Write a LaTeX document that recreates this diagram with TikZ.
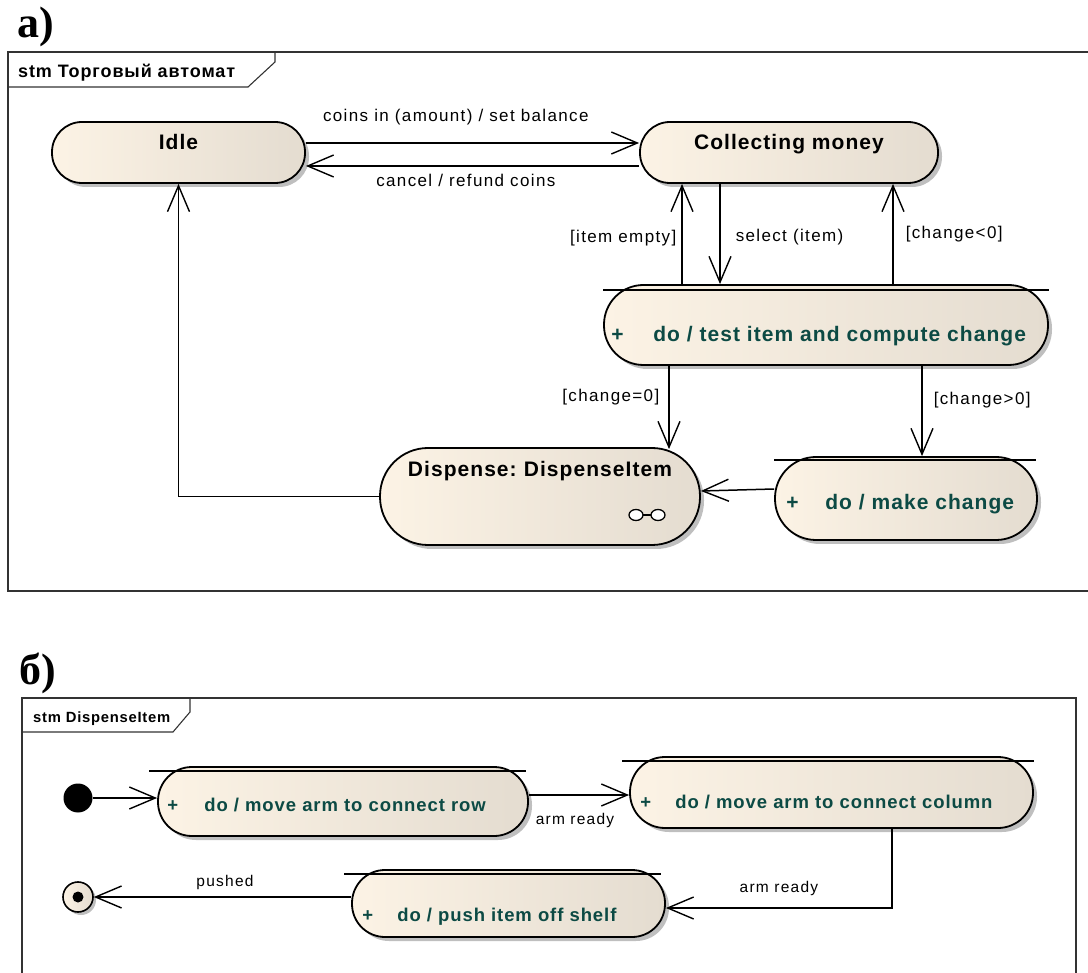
\documentclass[tikz,border=0pt]{standalone}
\usepackage{fontspec}
\setmainfont{Liberation Sans}
\newfontfamily\lblfont[LetterSpace=8]{Liberation Sans}
\newfontfamily\stfont[LetterSpace=5]{Liberation Sans}
\newfontfamily\partfont{Liberation Serif}
\usetikzlibrary{arrows.meta,shadows}
\definecolor{stL}{RGB}{252,243,229}
\definecolor{stR}{RGB}{228,220,208}
\definecolor{actcol}{RGB}{12,74,68}
\definecolor{framecol}{RGB}{50,50,50}
\begin{document}
\begin{tikzpicture}[x=1pt,y=-1pt,
  stbox/.style={draw, line width=1.8pt, left color=stL, right color=stR,
    drop shadow={shadow xshift=4pt, shadow yshift=-4pt, fill=black!25, opacity=1}},
  tr/.style={line width=1.5pt, -{Straight Barb[length=26pt,width=22pt,line width=1.4pt]}},
  comp/.style={line width=1.6pt},
  frame/.style={draw=framecol, line width=1.1pt},
  lbl/.style={font=\lblfont\fontsize{17}{20}\selectfont, inner sep=0pt},
  lblb/.style={font=\lblfont\fontsize{15.5}{18}\selectfont, inner sep=0pt},
  sttitle/.style={font=\stfont\bfseries\fontsize{21}{24}\selectfont, inner sep=0pt},
  act/.style={font=\stfont\bfseries\fontsize{21}{24}\selectfont, text=actcol, inner sep=0pt},
  actb/.style={font=\stfont\bfseries\fontsize{18.5}{22}\selectfont, text=actcol, inner sep=0pt},
  ftitle/.style={font=\stfont\bfseries\fontsize{18}{22}\selectfont, inner sep=0pt},
  ftitleb/.style={font=\stfont\bfseries\fontsize{14.8}{18}\selectfont, inner sep=0pt},
  part/.style={font=\partfont\bfseries\fontsize{44}{48}\selectfont, inner sep=0pt}
]
\useasboundingbox (0,0) rectangle (1088,973);

% ---------------- part a ----------------
\node[part, anchor=base west] (pa) at (17,38) {а)};
\draw[frame] (1088,52) -- (8,52) -- (8,591) -- (1088,591);
\draw[frame] (275,52) -- (275,62) -- (248,87) -- (8,87);
\node[ftitle, anchor=base west] (ta) at (18,78) {stm Торговый автомат};

\node[stbox, rounded corners=30pt, minimum width=253pt, minimum height=61pt] (idle) at (178.5,152.5) {};
\node[stbox, rounded corners=30pt, minimum width=298pt, minimum height=61pt] (coll) at (789,152.5) {};
\node[stbox, rounded corners=39.5pt, minimum width=444pt, minimum height=80pt] (test) at (826,325) {};
\node[stbox, rounded corners=48pt, minimum width=320pt, minimum height=97pt] (disp) at (540,496.5) {};
\node[stbox, rounded corners=41pt, minimum width=262pt, minimum height=83pt] (mkch) at (906,498.5) {};

\node[sttitle, anchor=base] (idlet) at ([yshift=-28pt]idle.north) {Idle};
\node[sttitle, anchor=base] (collt) at ([yshift=-28pt]coll.north) {Collecting money};
\node[sttitle, anchor=base] (dispt) at ([yshift=-29pt]disp.north) {Dispense:\hspace{-2pt} DispenseItem};

\draw[comp] ([yshift=-6pt]test.north west) -- ([yshift=-6pt]test.north east);
\node[act, anchor=base west] (testp) at ([xshift=8pt,yshift=-17pt]test.west) {+};
\node[act, anchor=base west] (testt) at ([xshift=50pt,yshift=-17pt]test.west) {do / test item and compute change};

\draw[comp] ([yshift=-4pt]mkch.north west) -- ([xshift=-2pt,yshift=-4pt]mkch.north east);
\node[act, anchor=base west] (mkchp) at ([xshift=12pt,yshift=-11.5pt]mkch.west) {+};
\node[act, anchor=base west] (mkcht) at ([xshift=51pt,yshift=-11.5pt]mkch.west) {do / make change};

% composite icon
\coordinate (ic) at ([xshift=107pt,yshift=-18.5pt]disp.center);
\draw[line width=1.3pt, fill=white] ([xshift=-11pt]ic) ellipse [x radius=7pt, y radius=5.5pt];
\draw[line width=1.3pt, fill=white] ([xshift=11pt]ic) ellipse [x radius=7pt, y radius=5.5pt];
\draw[line width=1.3pt] ([xshift=-4pt]ic) -- ([xshift=4pt]ic);

% transitions a
\draw[tr] ([yshift=9.5pt]idle.east) -- ([yshift=9.5pt]coll.west)
  node[lbl, pos=.45, yshift=26pt] {coins in (amount) / set balance};
\draw[tr] ([yshift=-13.5pt]coll.west) -- ([yshift=-13.5pt]idle.east)
  node[lbl, pos=.52, yshift=-14pt] {cancel / refund coins};
\coordinate (ie) at ([xshift=-144pt]test.north);
\coordinate (si) at ([xshift=-106pt]test.north);
\coordinate (cl) at ([xshift=67pt]test.north);
\coordinate (ce) at ([xshift=-157pt]test.south);
\coordinate (cg) at ([xshift=96pt]test.south);
\draw[tr] (ie) -- (ie |- coll.south)
  node[lbl, pos=.46, anchor=east, xshift=-5pt] {[item empty]};
\draw[tr] (si |- coll.south) -- (si)
  node[lbl, pos=.53, anchor=west, xshift=15pt] {select (item)};
\draw[tr] (cl) -- (cl |- coll.south)
  node[lbl, pos=.5, anchor=west, xshift=12pt] {[change<0]};
\draw[tr] (ce) -- ([yshift=-2pt]ce |- disp.north)
  node[lbl, pos=.38, anchor=east, xshift=-9pt] {[change=0]};
\draw[tr] (cg) -- (cg |- mkch.north)
  node[lbl, pos=.38, anchor=west, xshift=11pt] {[change>0]};
\draw[tr] ([yshift=9.5pt]mkch.west) -- ([yshift=5.5pt]disp.east);
\draw[tr] (disp.west) -| (idle.south);

% ---------------- part b ----------------
\node[part, anchor=base west] (pb) at (19,684) {б)};
\draw[frame] (22,973) -- (22,698) -- (1076,698) -- (1076,973);
\draw[frame] (190,698) -- (190,712) -- (173,732) -- (22,732);
\node[ftitleb, anchor=base west] (tb) at (33,722) {stm DispenseItem};

\node[stbox, rounded corners=34pt, minimum width=370pt, minimum height=69pt] (s1) at (343,801.5) {};
\node[stbox, rounded corners=35pt, minimum width=403pt, minimum height=71pt] (s2) at (831.5,792.5) {};
\node[stbox, rounded corners=33pt, minimum width=313pt, minimum height=67pt] (s3) at (508.5,903.5) {};
\node[circle, fill=black, minimum size=29pt, inner sep=0pt] (init) at (78,798) {};
\node[circle, draw, line width=1.6pt, left color=stL, right color=stR, minimum size=30pt, inner sep=0pt,
  drop shadow={shadow xshift=3pt, shadow yshift=-3pt, fill=black!25, opacity=1}] (fin) at (78,897) {};
\fill (fin.center) circle (5.5pt);

\draw[comp] ([xshift=-8pt,yshift=-5pt]s1.north west) -- ([xshift=-3pt,yshift=-5pt]s1.north east);
\draw[comp] ([xshift=-7pt,yshift=-5pt]s2.north west) -- ([yshift=-5pt]s2.north east);
\draw[comp] ([xshift=-7pt,yshift=-5pt]s3.north west) -- ([xshift=-5pt,yshift=-5pt]s3.north east);

\node[actb, anchor=base west] (s1p) at ([xshift=10pt,yshift=-9.5pt]s1.west) {+};
\node[actb, anchor=base west] (s1t) at ([xshift=47pt,yshift=-9.5pt]s1.west) {do / move arm to connect row};
\node[actb, anchor=base west] (s2p) at ([xshift=11pt,yshift=-15.5pt]s2.west) {+};
\node[actb, anchor=base west] (s2t) at ([xshift=46pt,yshift=-15.5pt]s2.west) {do / move arm to connect column};
\node[actb, anchor=base west] (s3p) at ([xshift=11pt,yshift=-17.5pt]s3.west) {+};
\node[actb, anchor=base west] (s3t) at ([xshift=46pt,yshift=-17.5pt]s3.west) {do / push item off shelf};

\coordinate (a1) at ([yshift=6.5pt]s1.east);
\coordinate (a2) at ([xshift=60.5pt]s2.south);
\coordinate (a3) at ([yshift=-4.5pt]s3.east);
\draw[tr] (init.east) -- (init.east -| s1.west);
\draw[tr] (a1) -- (a1 -| s2.west)
  node[lblb, pos=.46, yshift=-25pt] {arm ready};
\draw[tr] (a2) |- (a3)
  node[lblb, pos=.75, yshift=20pt] {arm ready};
\draw[tr] ([yshift=6.5pt]s3.west) -- (fin.east)
  node[lblb, pos=.49, yshift=15pt] {pushed};
\end{tikzpicture}
\end{document}
